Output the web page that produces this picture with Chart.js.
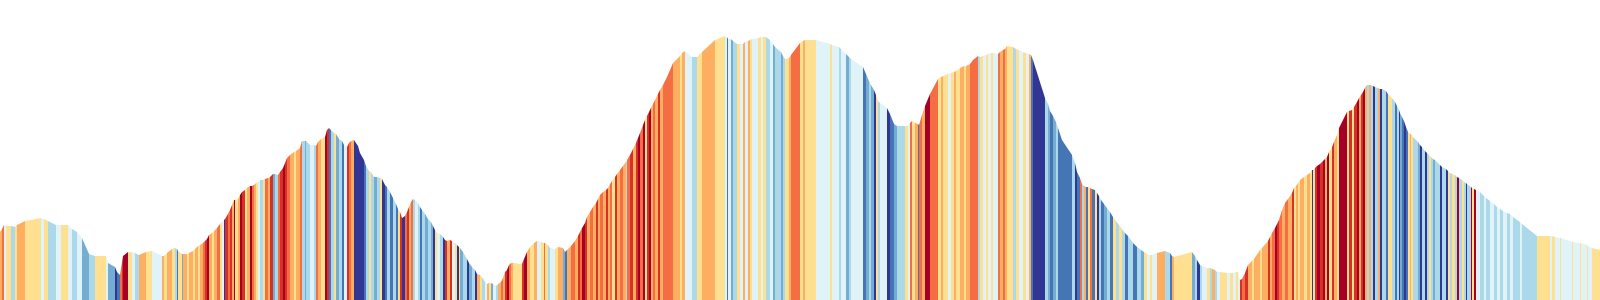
<!DOCTYPE html>
<html>
<head>
<meta charset="utf-8">
<script src="https://cdn.jsdelivr.net/npm/chart.js@4.4.1/dist/chart.umd.min.js"></script>
<style>
  html, body { margin: 0; padding: 0; background: #fff; }
  #wrap { width: 1600px; height: 300px; position: relative; }
</style>
</head>
<body>
<div id="wrap"><canvas id="profile"></canvas></div>
<script>
// slope classes, steep climb -> steep descent
const slopePalette = [
  '#a50026', '#d73027', '#f46d43', '#fdae61', '#fee090',
  '#e0f3f8', '#abd9e9', '#74add1', '#4575b4', '#313695'
]

const dist = [
  0,2,4,6,11,15,17,25,41,44,48,56,61,68,72,77,82,89,95,106,108,115,117,120,122,123,128,132,135,139,146,152,162,164,167,172,175,177,178,182,183,187,189,193,195,198,
  200,203,205,207,209,212,214,217,220,222,224,225,228,230,232,234,235,238,240,242,245,247,250,252,254,256,258,260,263,265,268,270,273,275,278,280,283,285,287,290,294,296,300,302,305,306,310,314,316,318,321,325,327,329,331,334,336,339,342,344,347,349,351,354,358,360,364,366,369,371,374,377,380,382,385,387,390,393,396,398,
  400,402,405,407,409,411,413,415,418,420,422,425,428,431,433,435,437,440,443,445,447,450,452,455,457,459,460,463,467,469,472,475,477,480,482,485,487,489,491,493,496,498,501,503,505,507,509,511,513,522,524,527,530,534,537,541,544,545,548,550,555,558,563,565,567,571,575,578,580,582,585,587,590,593,596,598,
  600,603,606,608,610,612,615,617,620,623,626,627,630,633,636,638,640,643,645,647,649,651,653,655,658,660,663,667,673,680,682,685,692,697,702,715,725,727,728,731,733,737,740,743,745,748,750,752,758,761,763,766,770,773,775,781,783,785,789,791,
  800,803,805,816,830,832,839,841,846,849,851,863,866,869,871,874,876,878,880,887,890,894,897,905,908,910,912,915,918,919,922,925,930,938,941,943,948,951,954,956,960,964,966,970,973,978,980,983,986,988,991,993,998,
  1000,1003,1005,1007,1013,1016,1019,1023,1026,1029,1031,1033,1045,1048,1050,1053,1056,1058,1062,1072,1075,1077,1080,1082,1084,1086,1088,1090,1092,1095,1097,1099,1101,1104,1107,1110,1113,1116,1119,1122,1125,1128,1133,1137,1141,1144,1147,1150,1152,1157,1165,1170,1172,1174,1192,1195,1197,
  1200,1202,1207,1210,1212,1215,1217,1220,1227,1230,1233,1236,1238,1240,1242,1245,1248,1252,1254,1260,1262,1268,1270,1272,1275,1277,1279,1282,1285,1288,1292,1294,1296,1298,1300,1304,1307,1310,1312,1313,1315,1317,1320,1323,1325,1327,1329,1332,1334,1337,1339,1347,1349,1352,1354,1357,1359,1361,1363,1365,1367,1369,1371,1373,1375,1378,1380,1382,1386,1388,1392,1395,1397,1399,
  1400,1402,1404,1406,1408,1410,1411,1413,1418,1420,1422,1425,1427,1429,1431,1433,1435,1440,1442,1446,1448,1450,1452,1455,1457,1459,1462,1464,1466,1467,1471,1472,1474,1476,1480,1484,1486,1490,1494,1497,1500,1503,1507,1510,1513,1520,1522,1537,1550,1552,1555,1560,1561,1572,1573,1580,1581,1587,1588,1592,1600
]

const elev = [
  68,71,75,74,74,73,75,79,82,81,79,75,75,75,71,68,62,46,44,44,37,33,28,25,38,44,48,48,47,45,48,49,44,44,47,51,52,51,49,46,46,46,47,49,51,54,
  55,57,59,61,65,67,69,72,76,78,80,81,86,90,95,100,100,101,105,108,110,112,114,114,115,117,118,120,120,121,122,123,126,126,125,128,132,137,142,145,148,149,152,159,159,159,155,155,154,158,161,163,170,172,170,167,166,161,159,155,153,157,159,160,154,147,140,134,129,128,123,123,122,121,115,113,108,102,96,91,
  88,82,84,88,93,98,101,100,97,93,90,86,81,78,74,70,67,66,63,60,59,60,59,57,55,53,52,48,41,37,33,30,26,25,23,18,16,17,17,16,14,16,18,22,28,30,35,37,37,36,41,48,53,57,59,58,57,57,55,52,51,53,52,48,50,54,59,64,68,72,77,83,88,93,97,101,
  105,108,110,112,116,119,123,126,130,134,138,140,145,151,157,162,167,175,180,184,188,192,196,200,206,210,215,223,237,244,247,249,243,243,248,260,264,263,261,261,259,256,256,256,258,259,260,261,262,263,263,263,260,256,253,248,244,241,242,245,
  257,259,260,260,256,255,253,251,246,243,241,233,226,219,215,210,205,199,197,192,186,176,174,174,174,177,179,177,176,175,185,194,206,221,223,224,226,227,228,229,232,234,234,236,240,244,243,244,245,246,247,247,246,
  248,250,251,254,253,251,250,248,247,246,245,240,202,196,189,184,178,172,160,145,137,128,122,116,114,113,113,112,111,110,107,104,100,96,92,88,83,79,75,71,67,64,57,53,50,48,46,45,45,47,49,47,44,43,48,44,40,
  35,34,32,32,31,30,28,28,27,27,27,28,28,20,21,27,35,39,41,50,52,59,63,67,72,76,80,90,97,101,107,112,114,117,120,123,125,127,130,130,132,134,136,139,141,143,148,153,158,165,172,188,189,190,193,198,202,205,208,212,215,215,215,214,213,212,211,211,209,206,202,198,194,190,
  187,183,179,173,168,166,166,163,158,155,153,149,147,145,143,141,140,135,133,131,129,127,126,125,123,122,120,118,117,116,113,112,111,110,108,104,102,99,96,93,91,89,87,86,83,78,76,64,64,64,63,62,62,58,58,57,57,55,54,52,50
]

// class of the stretch that starts at each point
const slopeClass = [
  3,2,5,4,6,4,3,4,5,4,6,5,4,5,6,5,7,6,4,5,7,9,8,2,1,0,4,5,6,3,4,5,3,4,3,4,6,8,4,7,3,4,3,4,3,4,
  3,2,1,0,3,4,3,2,4,5,9,1,2,1,3,0,4,3,0,1,4,3,0,2,3,4,5,6,4,2,3,1,7,6,2,1,0,1,2,3,4,3,2,6,7,6,5,6,2,3,4,0,1,8,6,4,7,6,8,5,1,2,3,9,9,9,8,6,4,6,7,6,4,9,8,6,8,6,8,4,
  1,9,2,1,3,2,6,5,6,8,6,7,6,7,9,4,5,6,9,1,3,1,5,4,9,4,7,6,9,7,6,9,3,4,6,5,3,4,7,5,6,3,2,3,1,0,2,3,4,1,0,3,4,3,5,4,2,4,6,5,4,3,7,8,3,2,3,1,2,0,1,3,2,3,1,3,
  2,3,1,3,2,4,1,3,2,3,6,2,1,3,1,0,2,0,4,1,0,3,2,3,1,3,2,2,3,4,3,5,6,4,3,4,5,8,5,7,6,4,5,3,5,3,4,5,4,5,4,6,5,7,6,7,6,4,3,2,
  4,3,4,5,4,5,6,5,7,6,5,8,7,6,7,9,4,6,5,9,8,7,6,4,5,2,4,3,8,2,3,0,2,4,3,4,5,4,3,4,3,4,3,2,2,6,4,5,4,5,4,5,2,
  3,2,3,4,6,4,5,4,5,3,8,9,6,7,8,7,6,8,8,6,9,8,2,6,3,8,4,2,8,4,9,6,8,7,6,8,4,6,4,6,8,6,8,6,7,4,5,4,5,3,6,8,3,4,7,6,9,
  6,5,4,6,3,6,5,4,5,4,5,4,5,1,2,1,3,4,3,4,3,1,3,2,0,1,2,3,2,3,1,4,3,4,3,4,3,4,9,4,1,0,1,0,3,0,4,1,3,4,0,4,1,4,1,0,3,1,0,3,6,3,6,9,6,3,9,6,8,4,6,8,6,9,
  7,8,9,8,4,3,4,6,7,9,6,9,6,4,6,7,6,9,6,9,4,6,4,6,0,6,4,6,9,6,0,4,0,5,6,5,6,5,6,5,6,5,6,5,6,5,6,4,5,4,5,4,5,4,5,4,5,4,5,4,4
]

const points = dist.map((d, i) => ({ x: d, y: elev[i] }))

new Chart('profile', {
  type: 'line',
  data: {
    datasets: [{
      data: points,
      fill: 'origin',
      tension: 0,
      pointRadius: 0,
      borderWidth: 0,
      borderColor: 'rgba(0,0,0,0)',
      backgroundColor: slopePalette[4],
      segment: {
        backgroundColor: ctx => slopePalette[slopeClass[ctx.p0DataIndex]]
      }
    }]
  },
  options: {
    responsive: true,
    maintainAspectRatio: false,
    animation: false,
    parsing: false,
    layout: { padding: 0 },
    scales: {
      x: { type: 'linear', min: 0, max: 1600, display: false },
      y: { min: 0, max: 300, display: false }
    },
    plugins: {
      legend: { display: false },
      tooltip: { enabled: false }
    }
  }
})
</script>
</body>
</html>
